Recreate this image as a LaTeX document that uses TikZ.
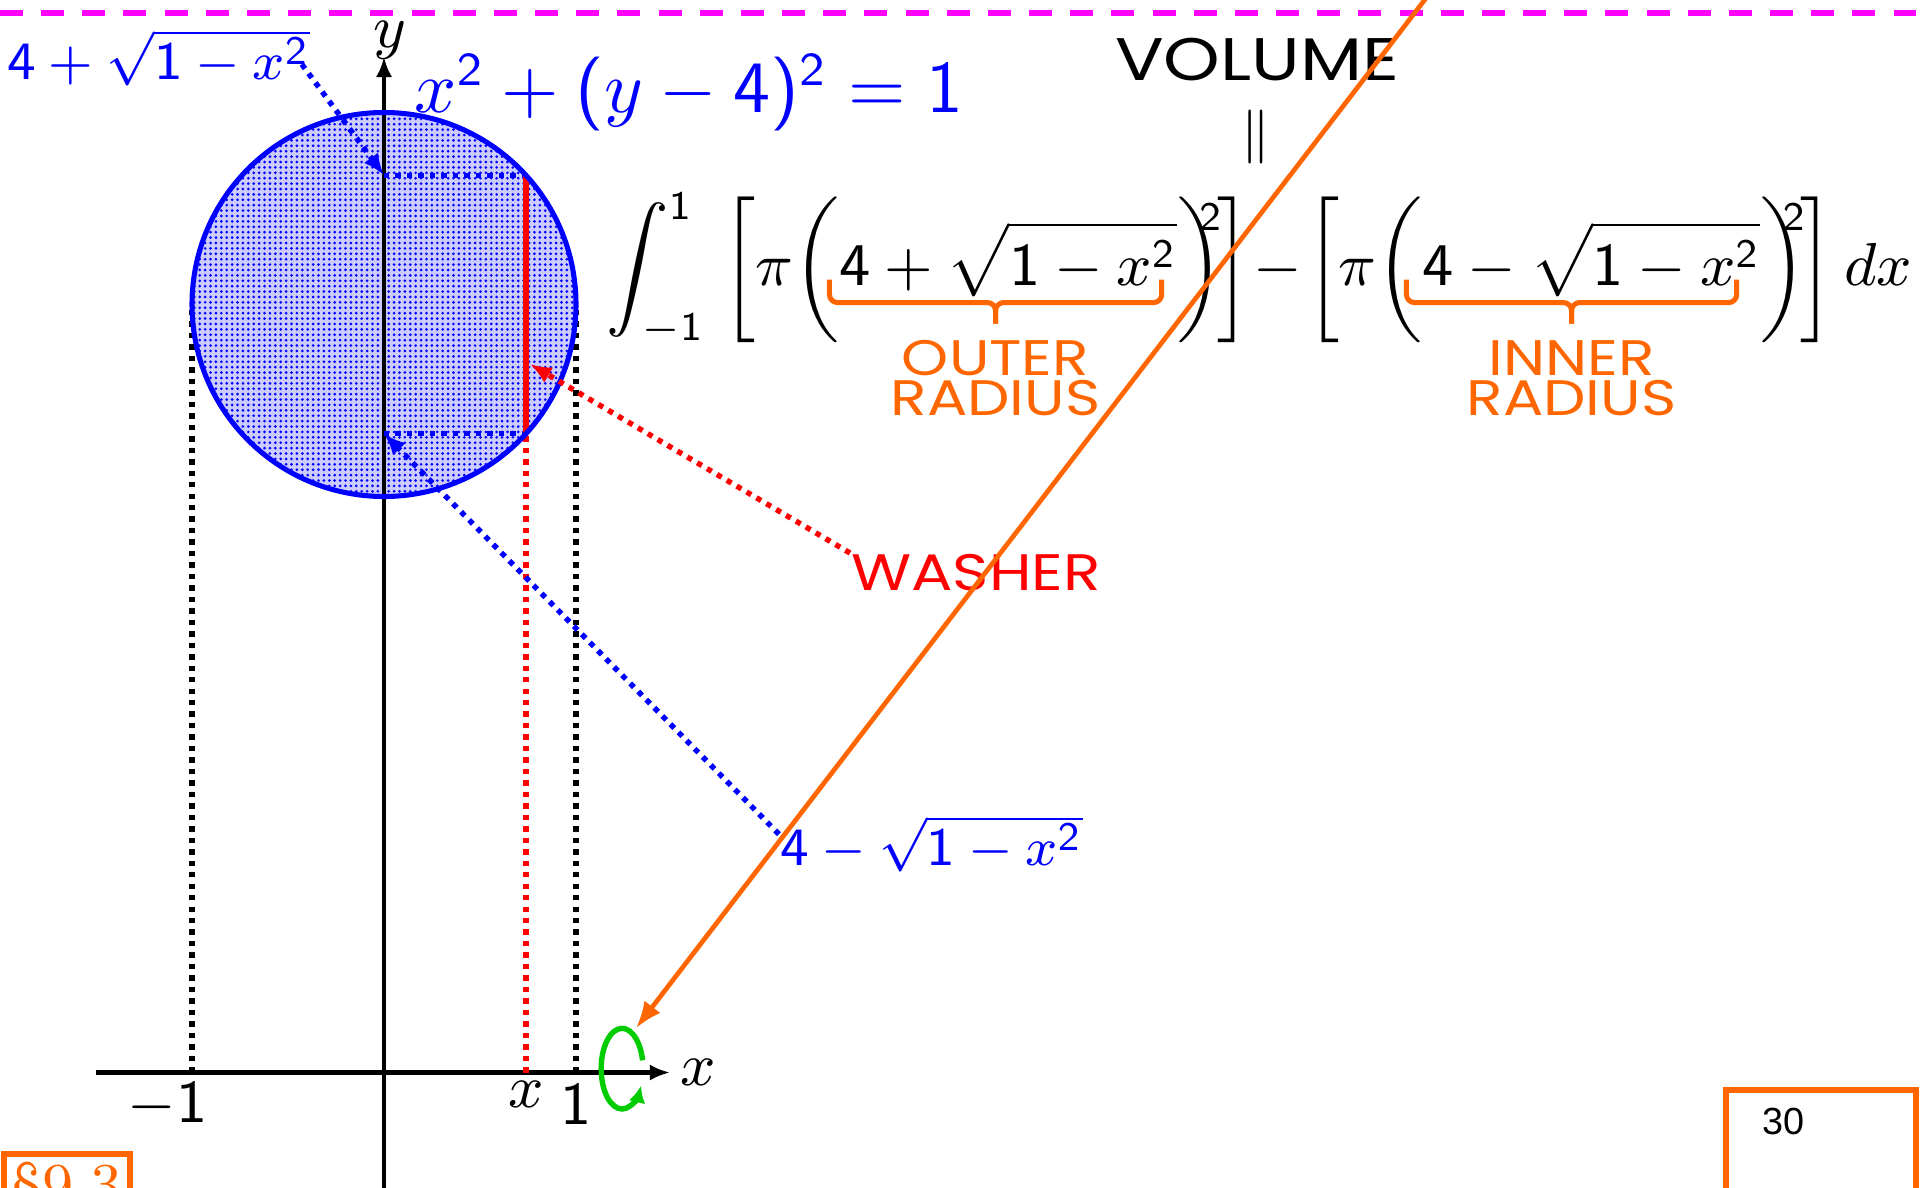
\documentclass[tikz,border=0pt]{standalone}
\usepackage{amsmath}
\usepackage[no-math]{fontspec}
\newfontfamily\capsfont[FakeStretch=1.2]{Poppins}
\newfontfamily\pagefont{Liberation Sans}
\DeclareSymbolFont{operators}{OT1}{cmss}{m}{n}
\SetSymbolFont{operators}{bold}{OT1}{cmss}{bx}{n}
\definecolor{myorange}{RGB}{255,102,0}
\definecolor{mygreen}{RGB}{0,204,0}
\definecolor{mymagenta}{RGB}{255,0,255}
\usetikzlibrary{arrows.meta,patterns.meta,positioning}

\tikzdeclarepattern{
  name=finedots,
  type=uncolored,
  bounding box={(-0.4pt,-0.4pt) and (0.4pt,0.4pt)},
  tile size={(0.8pt,0.8pt)},
  code={\fill (0pt,0pt) circle (0.22pt);}
}

\newcommand{\sqexp}{^{\kern-3.5pt\lower2.5pt\hbox{$\scriptstyle 2$}}\kern-1pt}

\begin{document}
\begin{tikzpicture}[x=1cm,y=1cm,
  every node/.style={inner sep=0pt},
  axis/.style={line width=0.6pt,-{Latex[length=3pt,width=2.4pt]}},
  dotline/.style={line width=0.8pt,dash pattern=on 0.8pt off 0.9pt},
  pointer/.style={dotline,-{Latex[length=3.2pt,width=2.6pt]}},
  bracket/.style={myorange,line width=0.75pt,rounded corners=1.2pt},
  capslabel/.style={font=\capsfont\fontsize{7.6}{9}\selectfont},
  radlabel/.style={text=myorange,align=center,font=\capsfont\fontsize{7.4}{5.9}\selectfont},
  mathlabel/.style={font=\fontsize{8.3}{10}\selectfont},
  ticklabel/.style={font=\fontsize{9}{11}\selectfont,anchor=base}]

\path[use as bounding box] (-2,-0.6) rectangle (8,5.586);
\clip (-2,-0.6) rectangle (8,5.586);

% rule at the top of the slide
\draw[mymagenta,line width=0.85pt,dash pattern=on 3.4pt off 2.7pt] (-2,5.52) -- (8,5.52);

% points used below
\coordinate (ytop) at (0,4.673);
\coordinate (ybot) at (0,3.327);
\coordinate (wtop) at (0.74,4.673);
\coordinate (wbot) at (0.74,3.327);
\coordinate (wfoot) at (0.74,0);
\coordinate (wmid) at (0.76,3.69);
\coordinate (spin) at (1.24,0.02);
\coordinate (spintop) at (1.312,0.23);
\coordinate (volsrc) at (5.625,5.854);

% shadow of the disc on the x-axis
\draw[dotline] (-1,0) -- (-1,4);
\draw[dotline] (1,0) -- (1,4);

% the disc
\fill[blue!20] (0,4) circle (1);
\fill[pattern=finedots,pattern color=blue] (0,4) circle (1);

% axes
\draw[axis] (0,-0.6) -- (0,5.29);
\draw[axis] (-1.5,0) -- (1.49,0);

% the washer
\draw[dotline,blue] (ytop) -- (wtop);
\draw[dotline,blue] (ybot) -- (wbot);
\draw[red,line width=0.8pt] (wbot) -- (wtop);
\draw[dotline,red] (wfoot) -- (wbot);
\draw[blue,line width=0.75pt] (0,4) circle (1);

% labels
\node[ticklabel] (ylbl) at (0.03,5.34) {$y$};
\node[ticklabel,anchor=base west] (xlbl) at (1.535,-0.07) {$x$};
\node[ticklabel] (minusone) at (-1.127,-0.26) {$-1$};
\node[ticklabel] (xtick) at (0.74,-0.18) {$x$};
\node[ticklabel] (one) at (1.0,-0.27) {$1$};

\node[font=\fontsize{10.55}{13}\selectfont,text=blue,anchor=base west] (circeq) at (0.153,5.0) {$x^2+(y-4)^2=1$};
\node[mathlabel,text=blue,anchor=base west] (outerlbl) at (-1.968,5.17) {$4+\sqrt{1-x^2}$};
\node[mathlabel,text=blue,anchor=base west] (innerlbl) at (2.057,1.076) {$4-\sqrt{1-x^2}$};
\node[capslabel,text=red,anchor=base west] (washer) at (2.427,2.51) {WASHER};

\node[capslabel,font=\capsfont\fontsize{8.9}{10}\selectfont,anchor=base] (volume) at (4.548,5.166) {VOLUME};
\node[font=\fontsize{8.3}{10}\selectfont] (equals) at (4.54,4.87) {$\parallel$};
\node[font=\fontsize{8.6}{10.5}\selectfont,anchor=base west] (volint) at (1.153,4.10) {$\displaystyle\int_{-1}^{1}\;\biggl[\pi\biggl(4+\sqrt{1-x^2}\biggr)\sqexp\biggr]\mkern-3mu-\mkern-3mu\biggl[\pi\biggl(4-\sqrt{1-x^2}\biggr)\sqexp\biggr]\,dx$};

% braces under the radii
\coordinate (outerL) at (2.32,4.13);
\coordinate (outerR) at (4.05,4.13);
\coordinate (outerT) at (3.185,3.90);
\coordinate (innerL) at (5.325,4.13);
\coordinate (innerR) at (7.045,4.13);
\coordinate (innerT) at (6.185,3.90);
\draw[bracket] (outerL) |- ([yshift=0.11cm]outerT) -- (outerT);
\draw[bracket] (outerR) |- ([yshift=0.11cm]outerT) -- (outerT);
\draw[bracket] (innerL) |- ([yshift=0.11cm]innerT) -- (innerT);
\draw[bracket] (innerR) |- ([yshift=0.11cm]innerT) -- (innerT);
\node[radlabel,below=0.08cm of outerT] (outerrad) {OUTER\\RADIUS};
\node[radlabel,below=0.08cm of innerT] (innerrad) {INNER\\RADIUS};

% pointers
\draw[pointer,blue] ([xshift=-0.05cm,yshift=0.12cm]outerlbl.south east) -- (ytop);
\draw[pointer,blue] ([yshift=0.05cm]innerlbl.west) -- (ybot);
\draw[pointer,red] (washer.north west) -- (wmid);

% rotation about the x-axis
\draw[mygreen,line width=0.8pt,-{Latex[length=2.5pt,width=2.5pt]}] ([shift={(12:0.109 and 0.21)}]spin) arc[start angle=12,end angle=335,x radius=0.109,y radius=0.21];
\draw[myorange,line width=0.7pt,-{Latex[length=4pt,width=3pt]}] (volsrc) -- (spintop);

% slide furniture
\node[draw=myorange,line width=0.9pt,text=myorange,inner sep=1.2pt,anchor=north west,font=\fontsize{9}{11}\selectfont] (sectbox) at (-1.995,-0.41) {\S9.3};
\node[draw=myorange,line width=0.9pt,minimum width=0.99cm,minimum height=1cm,anchor=north west] (pagebox) at (6.975,-0.076) {};
\node[font=\pagefont\fontsize{5.6}{7}\selectfont,below right=0.1cm and 0.195cm of pagebox.north west] (pagenum) {30};
\end{tikzpicture}
\end{document}
